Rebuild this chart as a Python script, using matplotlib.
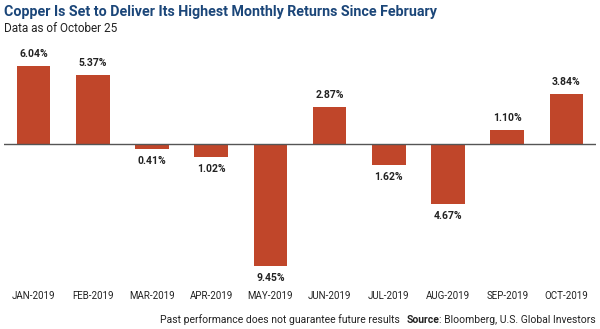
import matplotlib
matplotlib.use("Agg")
import matplotlib.pyplot as plt

months = ["JAN-2019", "FEB-2019", "MAR-2019", "APR-2019", "MAY-2019",
          "JUN-2019", "JUL-2019", "AUG-2019", "SEP-2019", "OCT-2019"]
returns = [6.04, 5.37, -0.41, -1.02, -9.45, 2.87, -1.62, -4.67, 1.10, 3.84]

bar_color = "#C0462A"
title_color = "#1B4679"
font = ["Roboto", "DejaVu Sans"]

fig = plt.figure(figsize=(6.0, 3.29), dpi=100)
ax = fig.add_axes([4 / 600, 49 / 329, 592 / 600, 235 / 329])

x = list(range(len(months)))
ax.bar(x, returns, width=0.57, color=bar_color, zorder=2)
ax.axhline(0, color="#555555", lw=1.0, zorder=3)
ax.set_xlim(-0.5, len(months) - 0.5)
ax.set_ylim(-10.54, 7.67)

for xi, v in zip(x, returns):
    off = 5 if v > 0 else -5
    ax.annotate(f"{abs(v):.2f}%", (xi, v), xytext=(0, off), textcoords="offset points",
                ha="center", va="bottom" if v > 0 else "top",
                fontsize=7.5, fontweight="bold", color="#222222", family=font)

ax.set_xticks(x)
ax.set_xticklabels(months, family=font, fontsize=7, color="#222222")
ax.tick_params(axis="x", length=0, pad=8)
ax.set_yticks([])
for s in ax.spines.values():
    s.set_visible(False)

fig.text(4 / 600, 1 - 12 / 329, "Copper Is Set to Deliver Its Highest Monthly Returns Since February",
         fontsize=10.3, fontweight="bold", color=title_color, family=font, va="center")
fig.text(4 / 600, 1 - 28 / 329, "Data as of October 25", fontsize=8.5, color="#222222",
         family=font, va="center")

# footer with bold "Source"
fy = 1 - 320 / 329
t1 = fig.text(596 / 600, fy, ": Bloomberg, U.S. Global Investors", fontsize=7.5, color="#222222",
              family=font, ha="right", va="center")
fig.canvas.draw()
r = fig.canvas.get_renderer()
bb = t1.get_window_extent(r)
t2 = fig.text(bb.x0 / 600, fy, "Source", fontsize=7.5, fontweight="bold", color="#222222",
              family=font, ha="right", va="center")
bb2 = t2.get_window_extent(r)
fig.text((bb2.x0 - 6) / 600, fy, "Past performance does not guarantee future results", fontsize=7.5,
         color="#222222", family=font, ha="right", va="center")

fig.savefig("out.png", dpi=100)
